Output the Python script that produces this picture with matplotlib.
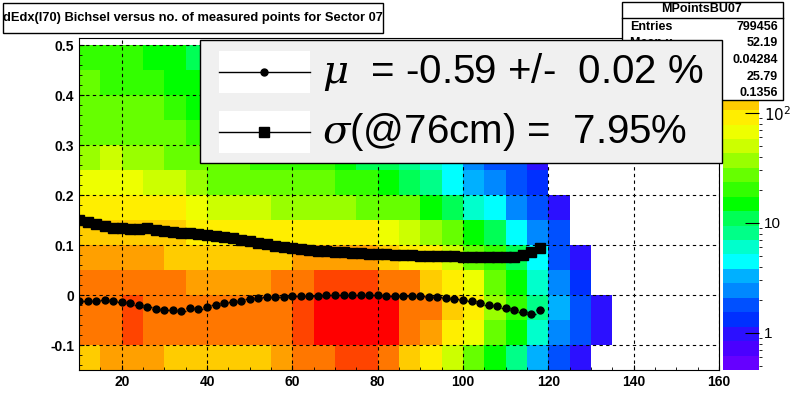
import numpy as np
import matplotlib
matplotlib.use("Agg")
import matplotlib.pyplot as plt
from matplotlib.colors import ListedColormap, LogNorm
from matplotlib.patches import Rectangle

plt.rcParams['font.family'] = ['Liberation Sans', 'DejaVu Sans']

# --- data -------------------------------------------------------------
x_edges = np.arange(10, 145, 5)            # 26 columns
y_edges = np.arange(-0.15, 0.55, 0.05)     # 13 rows
# log10(counts), rows from y=-0.125 (bottom) to 0.475 (top); nan = empty
logc = np.array([
 [2.1,2.2,2.2,2.2,2.1,2.1,2.1,2.1,2.1,2.2,2.3,2.4,2.5,2.5,2.3,2.1,1.9,1.7,1.5,1.2,0.9,0.5,0.3,0.0,np.nan,np.nan],
 [2.3,2.4,2.5,2.4,2.3,2.3,2.3,2.3,2.3,2.4,2.5,2.6,2.7,2.7,2.6,2.4,2.2,2.0,1.8,1.5,1.2,0.8,0.4,0.2,0.0,np.nan],
 [2.3,2.4,2.5,2.4,2.3,2.3,2.3,2.3,2.3,2.4,2.5,2.6,2.7,2.7,2.6,2.4,2.3,2.1,1.9,1.6,1.3,0.9,0.5,0.2,0.0,np.nan],
 [2.3,2.3,2.3,2.3,2.3,2.2,2.2,2.2,2.2,2.3,2.4,2.5,2.5,2.5,2.4,2.3,2.1,2.0,1.8,1.5,1.2,0.8,0.4,0.1,np.nan,np.nan],
 [2.2,2.2,2.2,2.2,2.1,2.1,2.1,2.1,2.1,2.1,2.2,2.2,2.2,2.2,2.1,2.0,1.9,1.7,1.5,1.3,1.0,0.6,0.3,0.0,np.nan,np.nan],
 [2.1,2.1,2.1,2.1,2.1,2.0,2.0,1.9,1.9,1.9,1.9,1.9,1.9,1.9,1.8,1.7,1.6,1.4,1.2,1.0,0.7,0.4,0.2,np.nan,np.nan,np.nan],
 [2.0,2.0,2.0,2.0,1.9,1.8,1.7,1.7,1.7,1.6,1.6,1.6,1.6,1.5,1.5,1.4,1.2,1.0,0.8,0.6,0.4,0.2,0.0,np.nan,np.nan,np.nan],
 [1.8,1.8,1.8,1.7,1.7,1.6,1.5,1.5,1.4,1.4,1.4,1.4,1.3,1.3,1.2,1.1,0.9,0.7,0.5,0.4,0.2,0.1,np.nan,np.nan,np.nan,np.nan],
 [1.6,1.7,1.6,1.6,1.5,1.5,1.4,1.4,1.3,1.3,1.3,1.3,1.2,1.1,1.0,0.9,0.8,0.6,0.4,0.3,0.2,0.0,np.nan,np.nan,np.nan,np.nan],
 [1.5,1.5,1.5,1.5,1.4,1.3,1.3,1.3,1.2,1.2,1.2,1.2,1.1,1.0,0.9,0.8,0.7,0.5,0.4,0.2,0.1,np.nan,np.nan,np.nan,np.nan,np.nan],
 [1.4,1.4,1.4,1.4,1.3,1.2,1.2,1.2,1.1,1.1,1.1,1.1,1.1,1.0,0.9,0.8,0.6,0.5,0.3,0.2,0.0,np.nan,np.nan,np.nan,np.nan,np.nan],
 [1.4,1.3,1.3,1.3,1.2,1.2,1.1,1.1,1.1,1.1,1.1,1.1,1.1,1.0,0.9,0.7,0.6,0.4,0.3,0.1,0.0,np.nan,np.nan,np.nan,np.nan,np.nan],
 [1.3,1.3,1.3,1.2,1.2,1.1,1.1,1.1,1.1,1.1,1.1,1.1,1.0,0.9,0.8,0.7,0.5,0.4,0.2,0.1,np.nan,np.nan,np.nan,np.nan,np.nan,np.nan],
])
counts = 10.0 ** logc

prof_x = np.arange(10, 120, 2)
mu_vals = [-0.012,-0.011,-0.011,-0.010,-0.011,-0.013,-0.016,-0.020,-0.024,-0.027,-0.030,-0.029,-0.031,-0.026,-0.028,
           -0.024,-0.020,-0.016,-0.014,-0.011,-0.008,-0.006,-0.004,-0.003,-0.003,-0.002,-0.002,-0.001,-0.001,-0.000,
           0.000,0.000,0.001,0.000,0.000,-0.000,-0.001,-0.001,-0.001,-0.002,-0.002,-0.003,-0.004,-0.005,-0.007,
           -0.009,-0.012,-0.015,-0.019,-0.022,-0.025,-0.029,-0.033,-0.038,-0.030]
sig_vals = [0.150,0.146,0.142,0.138,0.135,0.134,0.132,0.133,0.135,0.131,0.128,0.127,0.125,0.124,0.123,
            0.121,0.119,0.117,0.114,0.111,0.108,0.105,0.102,0.099,0.097,0.095,0.093,0.091,0.089,0.088,
            0.087,0.086,0.085,0.084,0.083,0.082,0.082,0.081,0.080,0.080,0.079,0.079,0.078,0.078,0.078,
            0.077,0.077,0.077,0.076,0.076,0.076,0.077,0.080,0.086,0.095]

# --- style ------------------------------------------------------------
root_cols = ["#6600ff","#4a00ff","#2c10ff","#0030ff","#0050ff","#0088ff","#00b0ff","#00ffff","#00ffcc",
             "#00ff88","#00ff55","#00ff00","#33ff00","#66ff00","#99ff00","#ccff00","#eeff00","#ffee00",
             "#ffcc00","#ffa000","#ff7700","#ff4400","#ff0000"]
cmap = ListedColormap(root_cols)
norm = LogNorm(vmin=0.46, vmax=480)

fig = plt.figure(figsize=(7.99, 4.12), dpi=100)
fig.patch.set_facecolor("white")
ax = fig.add_axes([0.0989, 0.102, 0.801, 0.806])
ax.pcolormesh(x_edges, y_edges, np.ma.masked_invalid(counts), cmap=cmap, norm=norm)
ax.set_xlim(10, 160)
ax.set_ylim(-0.15, 0.515)
ax.grid(True, linestyle=(0, (3, 3)), color="black", linewidth=0.8)
ax.set_xticks([20, 40, 60, 80, 100, 120, 140, 160])
ax.set_yticks([-0.1, 0, 0.1, 0.2, 0.3, 0.4, 0.5])
ax.set_yticklabels(["-0.1", "0", "0.1", "0.2", "0.3", "0.4", "0.5"])
ax.minorticks_on()
ax.tick_params(direction="in", which="both", labelsize=10, top=False, right=False)
for l in ax.get_xticklabels() + ax.get_yticklabels():
    l.set_fontweight("bold")

ax.errorbar(prof_x, mu_vals, yerr=0.004, xerr=1, fmt="o", color="black", ms=5, lw=1)
ax.errorbar(prof_x, sig_vals, yerr=0.005, xerr=1, fmt="s", color="black", ms=7, lw=1)

cax = fig.add_axes([0.905, 0.102, 0.045, 0.806])
sm = matplotlib.cm.ScalarMappable(norm=norm, cmap=cmap)
cb = fig.colorbar(sm, cax=cax)
cb.set_ticks([1, 10, 100])
cb.set_ticklabels(["1", "10", r"$10^2$"])
cax.tick_params(labelsize=11, direction="in", length=10)
cb.outline.set_linewidth(0)

# title box
fig.patches.append(Rectangle((3/799, 1-33/412), 380/799, 30/412, transform=fig.transFigure,
                             facecolor="white", edgecolor="black", lw=1))
fig.text(193/799, 1-18/412, "dEdx(I70) Bichsel versus no. of measured points for Sector 07",
         ha="center", va="center", fontsize=9.3, fontweight="bold")

# stats box
fig.patches.append(Rectangle((622/799, 1-100/412), 161/799, 98/412, transform=fig.transFigure,
                             facecolor="white", edgecolor="black", lw=1))
fig.text(702/799, 1-9/412, "MPointsBU07", ha="center", va="center", fontsize=9, fontweight="bold")
fig.lines.append(plt.Line2D([622/799, 783/799], [1-18/412]*2, transform=fig.transFigure, color="black", lw=1))
stats = [("Entries", "799456"), ("Mean x", "52.19"), ("Mean y", "0.04284"), ("RMS x", "25.79"), ("RMS y", "0.1356")]
for i, (k, v) in enumerate(stats):
    yy = 1 - (27 + i * 16.5) / 412
    fig.text(630/799, yy, k, ha="left", va="center", fontsize=9, fontweight="bold", zorder=2)
    fig.text(778/799, yy, v, ha="right", va="center", fontsize=9, fontweight="bold", zorder=8)

# legend box
fig.patches.append(Rectangle((200/799, 1-163/412), 522/799, 123/412, transform=fig.transFigure,
                             facecolor="#f0f0f0", edgecolor="black", lw=1, zorder=5))
for yy, mk, ms, txt in [(72, "o", 5, r"$\mu$  = -0.59 +/-  0.02 %"),
                        (132, "s", 7, r"$\sigma$(@76cm) =  7.95%")]:
    yf = 1 - yy / 412
    fig.patches.append(Rectangle((219/799, yf - 21/412), 91/799, 42/412, transform=fig.transFigure,
                                 facecolor="white", edgecolor="none", zorder=5.5))
    fig.lines.append(plt.Line2D([219/799, 310/799], [yf, yf], transform=fig.transFigure,
                                color="black", lw=1, zorder=6))
    fig.lines.append(plt.Line2D([264/799], [yf], transform=fig.transFigure, marker=mk, ms=ms,
                                color="black", zorder=6))
    fig.text(322/799, yf, txt, ha="left", va="center", fontsize=29, zorder=7,
             math_fontfamily="dejavuserif")

fig.savefig("out.png", dpi=100)
